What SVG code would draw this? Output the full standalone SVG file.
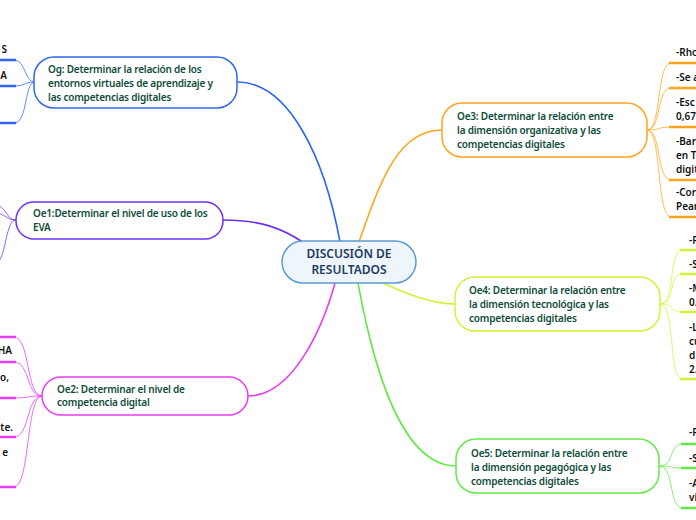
<svg xmlns="http://www.w3.org/2000/svg" width="696" height="520" viewBox="0 0 696 520">
<style>
.bg{fill:#ffffff}
.node{fill:#ffffff;stroke-width:1.5}
.nt{font-family:"Noto Sans","Open Sans",sans-serif;font-size:10px;font-weight:600;letter-spacing:-0.2px;fill:#0f4c3a}
.ct{font-family:"Noto Sans","Open Sans",sans-serif;font-size:12px;font-weight:600;fill:#1f3a66;text-anchor:middle}
.lt{font-family:"Noto Sans","Open Sans",sans-serif;font-size:10px;font-weight:600;fill:#111111}
.main{fill:none;stroke-width:1.6}
.thin{fill:none;stroke-width:1;stroke-opacity:0.75}
.ul{fill:none;stroke-width:2.4}
</style>
<rect class="bg" x="0" y="0" width="696" height="520"/>
<g id="connectors">
  <path class="main" stroke="#2f66f2" d="M237 82 C290 82 325 160 340 242"/>
  <path class="main" stroke="#7030ee" d="M223 220 C260 220 282 228 304 243"/>
  <path class="main" stroke="#e83cf0" d="M248 396 C292 396 322 330 335 283"/>
  <path class="main" stroke="#ffa41f" d="M359 242 C382 175 400 130 442 130"/>
  <path class="main" stroke="#d4f23a" d="M381 282 C410 296 436 304 455 304"/>
  <path class="main" stroke="#66e84a" d="M358 283 C372 360 400 466 456 466"/>
  <g stroke="#2f66f2">
    <path class="thin" d="M35 82 C24 82 26 60 14 60"/>
    <path class="thin" d="M35 82 C24 82 26 86 14 86"/>
    <path class="thin" d="M35 82 C24 82 28 123 14 123"/>
    <path class="ul" d="M-2 60 H16 M-2 86 H16 M-2 123 H16"/>
  </g>
  <g stroke="#7030ee">
    <path class="thin" d="M16 220 C6 220 8 208 -4 205"/>
    <path class="thin" d="M16 220 C6 220 6 214 -4 213"/>
    <path class="thin" d="M16 220 C6 220 6 255 -2 262"/>
  </g>
  <g stroke="#e83cf0">
    <path class="thin" d="M42 396 C26 396 30 337 14 337"/>
    <path class="thin" d="M42 396 C26 396 30 362 14 362"/>
    <path class="thin" d="M42 396 C26 396 30 398 14 398"/>
    <path class="thin" d="M42 396 C26 396 30 437 14 437"/>
    <path class="thin" d="M42 396 C26 396 30 487 14 487"/>
    <path class="ul" d="M-2 337 H16 M-2 362 H16 M-2 398 H16 M-2 437 H16 M-2 487 H16"/>
  </g>
  <g stroke="#ffa41f">
    <path class="thin" d="M647 130 C662 130 656 63 671 63"/>
    <path class="thin" d="M647 130 C662 130 656 88 671 88"/>
    <path class="thin" d="M647 130 C662 130 656 127 671 127"/>
    <path class="thin" d="M647 130 C662 130 656 180 671 180"/>
    <path class="thin" d="M647 130 C662 130 656 217 671 217"/>
    <path class="ul" d="M669 63 H700 M669 88 H700 M669 127 H700 M669 180 H700 M669 217 H700"/>
  </g>
  <g stroke="#d4f23a">
    <path class="thin" d="M660 304 C676 304 668 250 682 250"/>
    <path class="thin" d="M660 304 C676 304 668 274 682 274"/>
    <path class="thin" d="M660 304 C676 304 668 312 682 312"/>
    <path class="thin" d="M660 304 C676 304 668 379 682 379"/>
    <path class="ul" d="M680 250 H700 M680 274 H700 M680 312 H700 M680 379 H700"/>
  </g>
  <g stroke="#66e84a">
    <path class="thin" d="M659 466 C675 466 668 444 683 444"/>
    <path class="thin" d="M659 466 C675 466 668 468 683 468"/>
    <path class="thin" d="M659 466 C675 466 668 508 683 508"/>
    <path class="ul" d="M681 444 H700 M681 468 H700 M681 508 H700"/>
  </g>
</g>
<g id="center">
  <rect x="282" y="241" width="134" height="42" rx="21" fill="#eef5fb" stroke="#5b9bd5" stroke-width="1.5"/>
  <text class="ct" x="349" y="258">DISCUSIÓN DE</text>
  <text class="ct" x="349" y="274">RESULTADOS</text>
</g>
<g id="og">
  <rect class="node" x="34" y="57" width="203" height="51" rx="20" stroke="#2f66f2"/>
  <text class="nt" x="48" y="73">Og: Determinar la relación de los</text>
  <text class="nt" x="48" y="87">entornos virtuales de aprendizaje y</text>
  <text class="nt" x="48" y="101">las competencias digitales</text>
</g>
<g id="oe1">
  <rect class="node" x="16" y="202" width="207" height="37" rx="18" stroke="#7030ee"/>
  <text class="nt" x="33" y="217">Oe1:Determinar el nivel de uso de los</text>
  <text class="nt" x="33" y="231">EVA</text>
</g>
<g id="oe2">
  <rect class="node" x="42" y="377" width="206" height="38" rx="19" stroke="#e83cf0"/>
  <text class="nt" x="57" y="393">Oe2: Determinar el nivel de</text>
  <text class="nt" x="57" y="406">competencia digital</text>
</g>
<g id="oe3">
  <rect class="node" x="442" y="103" width="205" height="54" rx="20" stroke="#ffa41f"/>
  <text class="nt" x="457" y="120">Oe3: Determinar la relación entre</text>
  <text class="nt" x="457" y="134">la dimensión organizativa y las</text>
  <text class="nt" x="457" y="148">competencias digitales</text>
</g>
<g id="oe4">
  <rect class="node" x="455" y="277" width="205" height="54" rx="20" stroke="#d4f23a"/>
  <text class="nt" x="469" y="294">Oe4: Determinar la relación entre</text>
  <text class="nt" x="469" y="308">la dimensión tecnológica y las</text>
  <text class="nt" x="469" y="322">competencias digitales</text>
</g>
<g id="oe5">
  <rect class="node" x="456" y="439" width="203" height="54" rx="20" stroke="#66e84a"/>
  <text class="nt" x="471" y="457">Oe5: Determinar la relación entre</text>
  <text class="nt" x="471" y="471">la dimensión pegagógica y las</text>
  <text class="nt" x="471" y="485">competencias digitales</text>
</g>
<g id="og-children">
  <text class="lt" x="7" y="53" text-anchor="end">S</text>
  <text class="lt" x="7" y="79" text-anchor="end">A</text>
</g>
<g id="oe2-children">
  <text class="lt" x="12" y="354" text-anchor="end">HA</text>
  <text class="lt" x="9" y="381" text-anchor="end">o,</text>
  <text class="lt" x="13" y="431" text-anchor="end">te.</text>
  <text class="lt" x="8" y="456" text-anchor="end">e</text>
</g>
<g id="oe3-children">
  <text class="lt" x="676" y="56">-Rho</text>
  <text class="lt" x="676" y="81">-Se a</text>
  <text class="lt" x="676" y="106">-Esc</text>
  <text class="lt" x="676" y="120">0,67</text>
  <text class="lt" x="676" y="145">-Bar</text>
  <text class="lt" x="676" y="159">en T.</text>
  <text class="lt" x="676" y="173">digit</text>
  <text class="lt" x="676" y="196">-Cor</text>
  <text class="lt" x="676" y="210">Pear</text>
</g>
<g id="oe4-children">
  <text class="lt" x="689" y="244">-F</text>
  <text class="lt" x="689" y="268">-S</text>
  <text class="lt" x="689" y="292">-M</text>
  <text class="lt" x="689" y="306">0.</text>
  <text class="lt" x="689" y="331">-L</text>
  <text class="lt" x="689" y="345">cu</text>
  <text class="lt" x="689" y="359">d</text>
  <text class="lt" x="689" y="373">2.</text>
</g>
<g id="oe5-children">
  <text class="lt" x="689" y="436">-F</text>
  <text class="lt" x="689" y="462">-S</text>
  <text class="lt" x="689" y="487">-A</text>
  <text class="lt" x="689" y="501">vi</text>
</g>
</svg>
